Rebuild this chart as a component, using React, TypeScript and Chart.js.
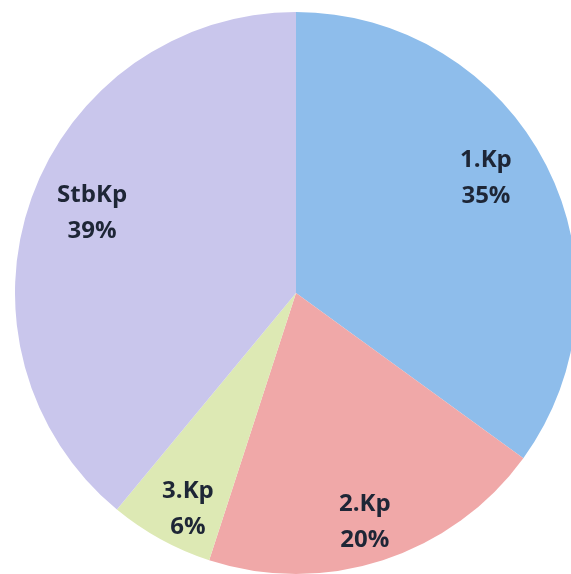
import React, { useEffect, useRef } from "react";
import { Chart, registerables } from "chart.js";

Chart.register(...registerables);

const categories = ["1.Kp", "2.Kp", "3.Kp", "StbKp"];
const shares = [35, 20, 6, 39];
const colors = ["#8EBDEB", "#F0A8A8", "#DDE9B4", "#C9C6EC"];
const labelRadiusFactor = [0.792, 0.848, 0.856, 0.781];
const labelAngleShiftDeg = [-4.4, 1.2, -2.1, 1.9];

const labelPlugin = {
  id: "sliceLabels",
  afterDatasetsDraw(chart: any) {
    const ctx = chart.ctx;
    const meta = chart.getDatasetMeta(0);
    ctx.save();
    ctx.fillStyle = "#1E2636";
    ctx.font = "bold 24px 'Open Sans', 'DejaVu Sans', sans-serif";
    ctx.textAlign = "center";
    ctx.textBaseline = "middle";
    meta.data.forEach((arc: any, i: number) => {
      const { x, y, startAngle, endAngle, outerRadius } = arc.getProps(
        ["x", "y", "startAngle", "endAngle", "outerRadius"],
        true
      );
      const mid = (startAngle + endAngle) / 2 + (labelAngleShiftDeg[i] * Math.PI) / 180;
      const r = outerRadius * labelRadiusFactor[i];
      const cx = x + Math.cos(mid) * r;
      const cy = y + Math.sin(mid) * r;
      ctx.fillText(categories[i], cx, cy - 17);
      ctx.fillText(shares[i] + "%", cx, cy + 19);
    });
    ctx.restore();
  },
};

export default function App() {
  const ref = useRef<HTMLCanvasElement>(null);
  useEffect(() => {
    if (!ref.current) return;
    const chart = new Chart(ref.current, {
      type: "pie",
      data: {
        labels: categories,
        datasets: [
          {
            data: shares,
            backgroundColor: colors,
            borderWidth: 0,
          },
        ],
      },
      options: {
        responsive: false,
        animation: false,
        layout: { padding: 0 },
        plugins: {
          legend: { display: false },
          tooltip: { enabled: false },
        },
      },
      plugins: [labelPlugin],
    });
    return () => chart.destroy();
  }, []);
  return (
    <div
      style={{
        position: "fixed",
        left: 0,
        top: 0,
        width: 571,
        height: 574,
        overflow: "hidden",
        background: "#fff",
      }}
    >
      <canvas
        ref={ref}
        width={562}
        height={562}
        style={{ position: "absolute", left: 15, top: 12, width: 562, height: 562 }}
      />
    </div>
  );
}
